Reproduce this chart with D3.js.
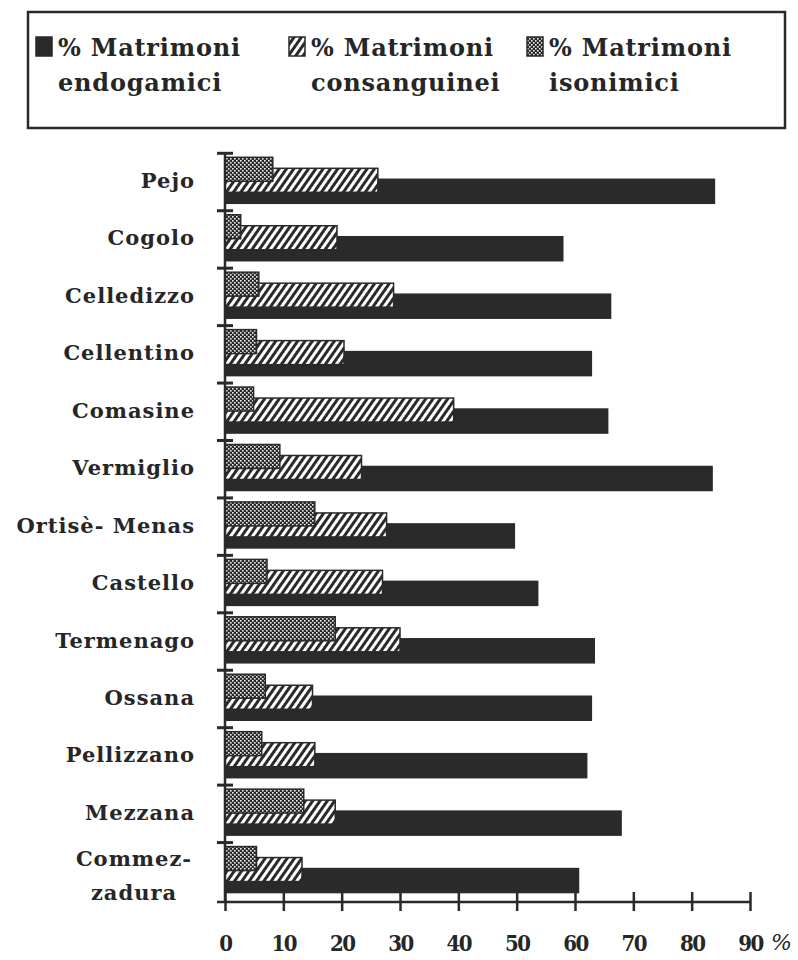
<!DOCTYPE html>
<html>
<head>
<meta charset="utf-8">
<script src="https://cdn.jsdelivr.net/npm/d3@7"></script>
<style>
  body { margin: 0; background: #fff; }
  svg { display: block; }
  text { font-family: "DejaVu Serif", "Liberation Serif", serif; fill: #262626; }
</style>
</head>
<body>
<div id="chart"></div>
<script>
// data
const paesi = ['Pejo', 'Cogolo', 'Celledizzo', 'Cellentino', 'Comasine', 'Vermiglio',
    'Ortisè- Menas', 'Castello', 'Termenago', 'Ossana', 'Pellizzano', 'Mezzana', 'Commezzadura'];
const endogamici   = [83.9, 57.9, 66.1, 62.8, 65.6, 83.5, 49.6, 53.6, 63.3, 62.8, 62.0, 67.9, 60.6];
const consanguinei = [26.2, 19.2, 28.9, 20.4, 39.2, 23.4, 27.7, 27.0, 30.0, 15.0, 15.4, 18.9, 13.2];
const isonimici    = [8.2, 2.7, 5.8, 5.4, 4.9, 9.4, 15.4, 7.2, 18.9, 6.9, 6.3, 13.5, 5.4];
const xTicks = [0, 10, 20, 30, 40, 50, 60, 70, 80, 90];
const legendLabels = [['% Matrimoni', 'endogamici'], ['% Matrimoni', 'consanguinei'], ['% Matrimoni', 'isonimici']];

const width = 798, height = 960;
const dark = '#2a2a2a';

const svg = d3.select('#chart')
    .append('svg')
    .attr('width', width)
    .attr('height', height);

const defs = svg.append('defs');

const hatch = defs.append('pattern')
    .attr('id', 'hatch')
    .attr('patternUnits', 'userSpaceOnUse')
    .attr('width', 6).attr('height', 6)
    .attr('patternTransform', 'rotate(35)');
hatch.append('rect').attr('width', 6).attr('height', 6).attr('fill', '#fff');
hatch.append('rect').attr('width', 3).attr('height', 6).attr('fill', dark);

const dots = defs.append('pattern')
    .attr('id', 'dots')
    .attr('patternUnits', 'userSpaceOnUse')
    .attr('width', 4).attr('height', 4);
dots.append('rect').attr('width', 4).attr('height', 4).attr('fill', dark);
dots.append('rect').attr('width', 1.6).attr('height', 1.6).attr('fill', '#eee');
dots.append('rect').attr('x', 2).attr('y', 2).attr('width', 1.6).attr('height', 1.6).attr('fill', '#eee');

const fills = [dark, 'url(#hatch)', 'url(#dots)'];
const series = [endogamici, consanguinei, isonimici];

// scales
const x = d3.scaleLinear().domain([0, 90]).range([225, 750]);
const y = d3.scaleBand().domain(paesi).range([153.3, 900]).paddingInner(0).paddingOuter(0);

// bars: black drawn first, hatched over it, dotted on top
const barH = 24;
const offs = [26, 15, 4];
series.forEach((vals, s) => {
    svg.append('g')
        .selectAll('rect')
        .data(paesi)
        .join('rect')
        .attr('x', x(0))
        .attr('y', d => y(d) + offs[s])
        .attr('width', (d, i) => x(vals[i]) - x(0))
        .attr('height', barH)
        .attr('fill', fills[s])
        .attr('stroke', dark)
        .attr('stroke-width', 1.5);
});

// y axis
svg.append('line')
    .attr('x1', x(0)).attr('x2', x(0))
    .attr('y1', y.range()[0]).attr('y2', 902)
    .attr('stroke', dark).attr('stroke-width', 2.5);
svg.append('g')
    .selectAll('line')
    .data(paesi)
    .join('line')
    .attr('x1', 217).attr('x2', 233)
    .attr('y1', d => y(d)).attr('y2', d => y(d))
    .attr('stroke', dark).attr('stroke-width', 3);

// x axis
const xAxis = svg.append('g')
    .attr('transform', 'translate(0,902)')
    .call(d3.axisBottom(x).tickValues(xTicks).tickSize(9).tickSizeOuter(0).tickPadding(24));
xAxis.select('.domain')
    .attr('d', `M217,0H${x(90)}`)
    .attr('stroke', dark).attr('stroke-width', 2.5);
xAxis.selectAll('.tick line')
    .attr('y1', -10).attr('y2', 9)
    .attr('stroke', dark).attr('stroke-width', 2.5);
xAxis.selectAll('.tick text')
    .attr('font-family', '"DejaVu Serif", serif')
    .attr('font-size', 22)
    .attr('font-weight', 'bold')
    .attr('font-stretch', 'condensed')
    .attr('fill', '#262626')
    .attr('letter-spacing', -1.5);
svg.append('text')
    .attr('x', 771).attr('y', 950)
    .attr('font-size', 22)
    .attr('font-style', 'italic')
    .text('%');

// category labels
const labels = svg.append('g')
    .selectAll('text')
    .data(paesi)
    .join('text')
    .attr('font-size', 21)
    .attr('font-weight', 'bold')
    .attr('letter-spacing', 1)
    .attr('text-anchor', 'end')
    .attr('x', 195)
    .attr('y', d => y(d) + y.bandwidth() / 2 + 6);
labels.filter(d => d !== 'Commezzadura').text(d => d);
labels.filter(d => d === 'Commezzadura')
    .attr('text-anchor', 'middle')
    .attr('x', 134)
    .each(function() {
        const t = d3.select(this);
        t.append('tspan').attr('x', 134).attr('dy', -11).text('Commez-');
        t.append('tspan').attr('x', 134).attr('dy', 34).text('zadura');
    });

// legend
svg.append('rect')
    .attr('x', 28).attr('y', 12)
    .attr('width', 757).attr('height', 116)
    .attr('fill', 'none')
    .attr('stroke', dark).attr('stroke-width', 2.5);

const legX = [36, 289, 527];
const leg = svg.append('g')
    .selectAll('g')
    .data(legendLabels)
    .join('g')
    .attr('transform', (d, i) => `translate(${legX[i]},0)`);
leg.append('rect')
    .attr('x', 0).attr('y', 37)
    .attr('width', 16).attr('height', 19)
    .attr('fill', (d, i) => fills[i])
    .attr('stroke', dark).attr('stroke-width', 1.5);
leg.append('text')
    .attr('x', 22).attr('y', 56)
    .attr('font-size', 24)
    .attr('font-weight', 'bold')
    .attr('letter-spacing', 0.8)
    .text(d => d[0]);
leg.append('text')
    .attr('x', 22).attr('y', 91)
    .attr('font-size', 24)
    .attr('font-weight', 'bold')
    .attr('letter-spacing', 0.8)
    .text(d => d[1]);
</script>
</body>
</html>
